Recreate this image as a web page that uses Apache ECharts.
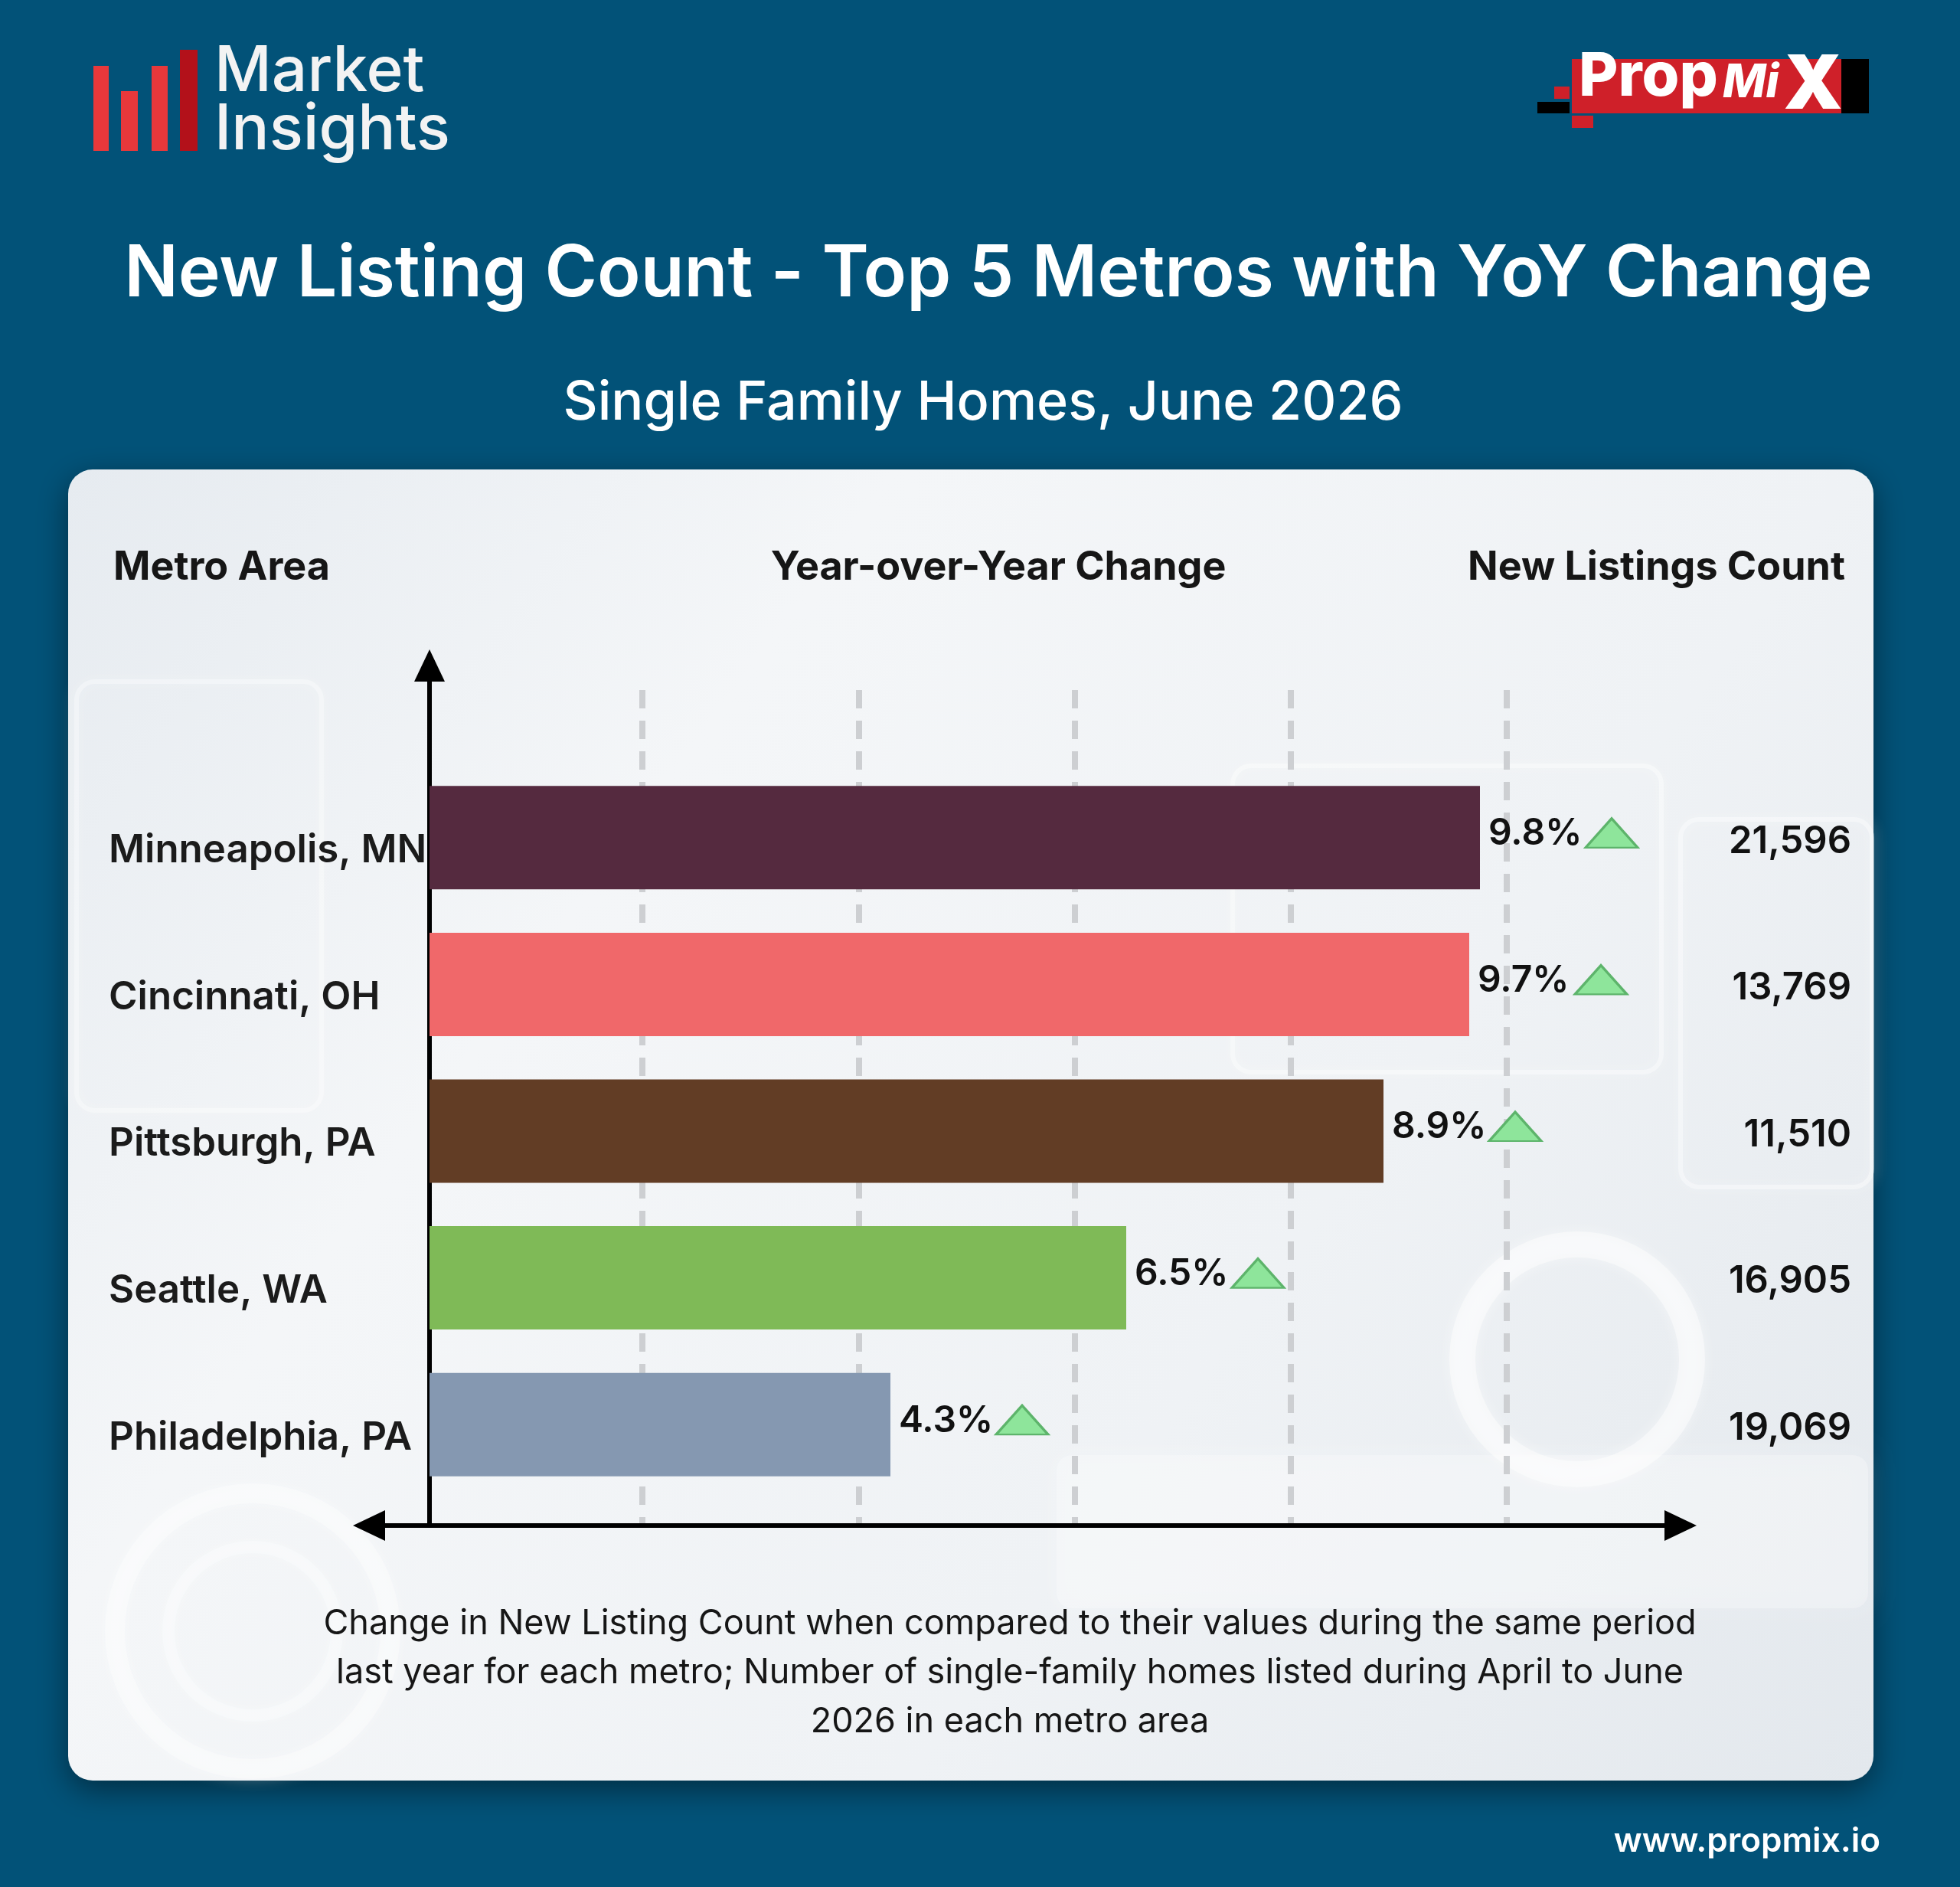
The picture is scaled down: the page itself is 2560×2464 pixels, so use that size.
<!DOCTYPE html>
<html>
<head>
<meta charset="utf-8">
<script src="https://cdn.jsdelivr.net/npm/echarts@6/dist/echarts.min.js"></script>
<style>
  html, body { margin: 0; padding: 0; background: #025278; }
  #chart { width: 2560px; height: 2464px; }
</style>
</head>
<body>
<div id="chart"></div>
<script>
// ---- data ----
const metros = ['Minneapolis, MN', 'Cincinnati, OH', 'Pittsburgh, PA', 'Seattle, WA', 'Philadelphia, PA'];
const yoyChange = [9.8, 9.7, 8.9, 6.5, 4.3];          // % year-over-year change
const newListings = [21596, 13769, 11510, 16905, 19069];
const barColors = ['#552a3f', '#f0686a', '#623d25', '#7fba57', '#8598b1'];
const yoyAxisMax = 10;
const yoyTickStep = 2;

const countLabels = newListings.map(n => n.toLocaleString('en-US'));
const FONT = 'Inter, "Noto Sans", sans-serif';

const chart = echarts.init(document.getElementById('chart'), null, { renderer: 'canvas' });

function txt(x, y, text, size, weight, color, align, extra) {
  return Object.assign({
    type: 'text', x: x, y: y, z: 20,
    style: {
      text: text, fill: color, align: align || 'left', verticalAlign: 'middle',
      fontFamily: FONT, fontSize: size, fontWeight: weight
    }
  }, extra || {});
}

function softStroke(shape, type, alpha, lw) {
  return {
    type: type, z: -9, silent: true, shape: shape,
    style: { fill: 'none', stroke: 'rgba(255,255,255,' + alpha + ')', lineWidth: lw,
      shadowBlur: 18, shadowColor: 'rgba(255,255,255,0.9)' }
  };
}

const graphics = [
  // card
  {
    type: 'rect', z: -10, silent: true,
    shape: { x: 89, y: 613, width: 2358, height: 1712, r: 32 },
    style: {
      fill: {
        type: 'linear', x: 0, y: 0, x2: 1, y2: 1,
        colorStops: [
          { offset: 0, color: '#e6ebf0' },
          { offset: 0.3, color: '#f4f6f8' },
          { offset: 0.65, color: '#eff2f5' },
          { offset: 1, color: '#e3e8ed' }
        ]
      },
      shadowBlur: 40, shadowColor: 'rgba(0,0,0,0.45)', shadowOffsetY: 12
    }
  },
  // faint blurred decorative background shapes on the card
  softStroke({ x: 100, y: 890, width: 320, height: 560, r: 24 }, 'rect', 0.35, 6),
  softStroke({ x: 1610, y: 1000, width: 560, height: 400, r: 24 }, 'rect', 0.4, 6),
  softStroke({ x: 2195, y: 1070, width: 250, height: 480, r: 24 }, 'rect', 0.4, 6),
  softStroke({ cx: 2060, cy: 1775, r: 150 }, 'circle', 0.45, 34),
  softStroke({ cx: 330, cy: 2130, r: 180 }, 'circle', 0.35, 26),
  softStroke({ cx: 330, cy: 2130, r: 110 }, 'circle', 0.3, 16),
  { type: 'rect', z: -9, silent: true, shape: { x: 1380, y: 1900, width: 1060, height: 200, r: 20 },
    style: { fill: 'rgba(255,255,255,0.25)', shadowBlur: 30, shadowColor: 'rgba(255,255,255,0.6)' } },

  // Market Insights logo bars
  { type: 'rect', z: 20, shape: { x: 122, y: 86, width: 20, height: 111 }, style: { fill: '#e8383b' } },
  { type: 'rect', z: 20, shape: { x: 158, y: 119, width: 22, height: 78 }, style: { fill: '#e8383b' } },
  { type: 'rect', z: 20, shape: { x: 198, y: 86, width: 21, height: 111 }, style: { fill: '#e8383b' } },
  { type: 'rect', z: 20, shape: { x: 235, y: 65, width: 23, height: 132 }, style: { fill: '#b3111a' } },
  txt(280, 94, 'Market', 82, 500, '#f3f3f3'),
  txt(280, 170, 'Insights', 82, 500, '#f3f3f3'),

  // PropMix logo
  { type: 'rect', z: 20, shape: { x: 2053, y: 77, width: 356, height: 71 }, style: { fill: '#cf2029' } },
  { type: 'rect', z: 20, shape: { x: 2405, y: 77, width: 36, height: 71 }, style: { fill: '#000000' } },
  { type: 'rect', z: 20, shape: { x: 2030, y: 113, width: 20, height: 16 }, style: { fill: '#cf2029' } },
  { type: 'rect', z: 20, shape: { x: 2008, y: 133, width: 42, height: 15 }, style: { fill: '#000000' } },
  { type: 'rect', z: 20, shape: { x: 2053, y: 151, width: 28, height: 16 }, style: { fill: '#cf2029' } },
  { type: 'text', z: 21, x: 2062, y: 141,
    style: { text: 'Prop', fill: '#ffffff', align: 'left', verticalAlign: 'bottom', fontFamily: FONT, fontSize: 79, fontWeight: 800 } },
  { type: 'text', z: 21, x: 2250, y: 139,
    style: { text: 'Mi', fill: '#ffffff', align: 'left', verticalAlign: 'bottom', fontFamily: FONT, fontSize: 60, fontWeight: 800, fontStyle: 'italic' } },
  { type: 'text', z: 21, x: 2368, y: 113,
    style: { text: 'X', fill: '#ffffff', align: 'center', verticalAlign: 'middle', fontFamily: FONT, fontSize: 98, fontWeight: 900 } },

  // titles
  txt(1304, 359, 'New Listing Count - Top 5 Metros with YoY Change', 93, 600, '#ffffff', 'center'),
  txt(1284, 527, 'Single Family Homes, June 2026', 70, 500, '#ffffff', 'center'),

  // column headers
  txt(148, 741, 'Metro Area', 52, 700, '#161616', 'left'),
  txt(1304, 741, 'Year-over-Year Change', 52, 700, '#161616', 'center'),
  txt(2410, 741, 'New Listings Count', 52, 700, '#161616', 'right'),

  // footnote
  {
    type: 'text', z: 20, x: 1319, y: 2184,
    style: {
      text: 'Change in New Listing Count when compared to their values during the same period\nlast year for each metro; Number of single-family homes listed during April to June\n2026 in each metro area',
      fill: '#161616', align: 'center', verticalAlign: 'middle', lineHeight: 64,
      fontFamily: FONT, fontSize: 45, fontWeight: 400
    }
  },
  txt(2456, 2405, 'www.propmix.io', 44, 600, '#ffffff', 'right')
];

const option = {
  backgroundColor: '#025278',
  animation: false,
  textStyle: { fontFamily: FONT },
  graphic: { elements: graphics },
  grid: [
    // bars
    { left: 561, top: 998, width: 1400, height: 958 },
    // dashed reference lines
    { left: 557, top: 901, width: 1411, height: 1091 },
    // arrowed axis frame
    { left: 482, top: 869, width: 1713, height: 1123 }
  ],
  xAxis: [
    { gridIndex: 0, type: 'value', min: 0, max: yoyAxisMax, show: false },
    {
      gridIndex: 1, type: 'value', min: 0, max: yoyAxisMax, interval: yoyTickStep,
      axisLine: { show: false }, axisTick: { show: false }, axisLabel: { show: false },
      splitLine: { show: true, showMinLine: false, lineStyle: { color: '#cdcfd2', width: 8, type: [24, 16] } }
    },
    {
      gridIndex: 2, type: 'value', min: -79, max: 1634,
      axisLine: { show: true, onZero: true, symbol: ['triangle', 'triangle'], symbolSize: [40, 42],
        lineStyle: { color: '#000000', width: 6 } },
      axisTick: { show: false }, axisLabel: { show: false }, splitLine: { show: false }
    }
  ],
  yAxis: [
    {
      gridIndex: 0, type: 'category', inverse: true, data: metros,
      axisLine: { show: false }, axisTick: { show: false }, splitLine: { show: false },
      axisLabel: {
        margin: 419, align: 'left', verticalAlign: 'top', lineHeight: 34,
        color: '#1b1b1b', fontSize: 51, fontWeight: 600, fontFamily: FONT
      }
    },
    {
      gridIndex: 0, type: 'category', inverse: true, position: 'right', data: countLabels,
      axisLine: { show: false }, axisTick: { show: false }, splitLine: { show: false },
      axisLabel: {
        margin: 457, align: 'right', verticalAlign: 'top', lineHeight: 10,
        color: '#111111', fontSize: 49, fontWeight: 600, fontFamily: FONT
      }
    },
    { gridIndex: 1, type: 'value', min: 0, max: 1, show: false },
    {
      gridIndex: 2, type: 'value', min: 0, max: 1,
      axisLine: { show: true, onZero: true, symbol: ['none', 'triangle'], symbolSize: [40, 42],
        lineStyle: { color: '#000000', width: 6 } },
      axisTick: { show: false }, axisLabel: { show: false }, splitLine: { show: false }
    }
  ],
  series: [
    {
      name: 'YoY Change',
      type: 'bar',
      xAxisIndex: 0, yAxisIndex: 0,
      barWidth: 135,
      z: 3,
      data: yoyChange.map((v, i) => ({ value: v, itemStyle: { color: barColors[i] } })),
      label: {
        show: true, position: 'right', distance: 11, offset: [0, -5],
        formatter: p => p.value + '%',
        color: '#111111', fontSize: 48, fontWeight: 600, fontFamily: FONT
      }
    },
    {
      name: 'Up',
      type: 'scatter',
      xAxisIndex: 0, yAxisIndex: 0,
      z: 4,
      symbol: 'triangle',
      symbolSize: [68, 38],
      symbolOffset: [172, -6],
      data: yoyChange.map((v, i) => [v, metros[i]]),
      itemStyle: { color: '#8ee59b', borderColor: '#5db46b', borderWidth: 3, opacity: 1 },
      silent: true
    }
  ]
};

chart.setOption(option);
</script>
</body>
</html>
